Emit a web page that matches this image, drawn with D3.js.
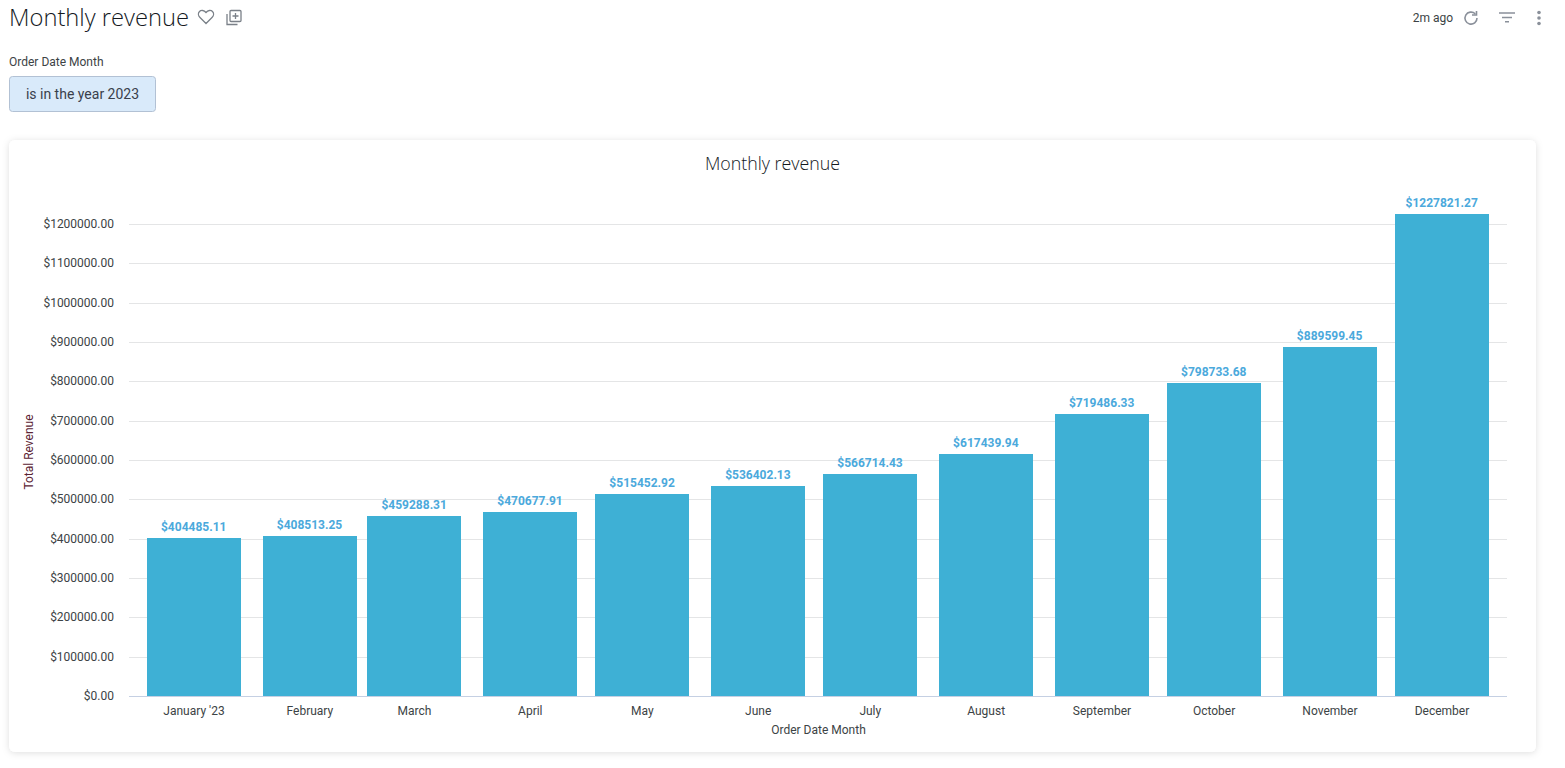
<!DOCTYPE html>
<html><head><meta charset="utf-8">
<script src="https://cdn.jsdelivr.net/npm/d3@7"></script>
<style>
html,body{margin:0;padding:0;background:#fff;overflow:hidden}
svg{display:block}
text{font-family:Roboto,sans-serif}
</style></head><body>
<svg id="c" width="1565" height="768"></svg>
<script>
const months = ["2023-01-01","2023-02-01","2023-03-01","2023-04-01","2023-05-01","2023-06-01","2023-07-01","2023-08-01","2023-09-01","2023-10-01","2023-11-01","2023-12-01"];
const monthLabels = ["January '23","February","March","April","May","June","July","August","September","October","November","December"];
const revenue = [404485.11,408513.25,459288.31,470677.91,515452.92,536402.13,566714.43,617439.94,719486.33,798733.68,889599.45,1227821.27];
const yTicks = [0,100000,200000,300000,400000,500000,600000,700000,800000,900000,1000000,1100000,1200000];

const svg = d3.select("#c");
const parse = d3.utcParse("%Y-%m-%d");
const dates = months.map(parse);
const left=129,right=1507,top0=224,bottom=696;
const DAY=864e5;
const x = d3.scaleUtc()
  .domain([new Date(+dates[0]-17.4*DAY), new Date(+dates[11]+17.4*DAY)])
  .range([left,right]);
const y = d3.scaleLinear().domain([0,1200000]).range([bottom,top0]);
const money = d3.format("$.2f");
const barW = 94;
const barTop = d => Math.round(y(d))+1;

// card
const defs = svg.append("defs");
const f = defs.append("filter").attr("id","sh").attr("x","-2%").attr("y","-5%").attr("width","104%").attr("height","110%");
f.append("feDropShadow").attr("dx",0).attr("dy",1).attr("stdDeviation",3.5).attr("flood-color","#000").attr("flood-opacity",0.13);
svg.append("rect").attr("x",9).attr("y",140).attr("width",1527).attr("height",612).attr("rx",6).attr("fill","#fff").attr("filter","url(#sh)");

// page header
svg.append("text").attr("x",9).attr("y",26).attr("font-size",24.5).attr("font-weight",300).attr("fill","#14191e").style("font-family","'Open Sans',sans-serif").attr("textLength",180).attr("lengthAdjust","spacingAndGlyphs").text("Monthly revenue");
svg.append("path").attr("d","M206 23.5l-6-6c-2-2-2-4.500-.5-6s4.500-1.500 6.500 1c2-2.500 5-2.500 6.500-1s1.500 4-.5 6z")
  .attr("fill","none").attr("stroke","#7a8088").attr("stroke-width",1.3);
const ic = svg.append("g").attr("fill","none").attr("stroke","#7a8088").attr("stroke-width",1.3);
ic.append("rect").attr("x",230).attr("y",10.500).attr("width",11).attr("height",11).attr("rx",1);
ic.append("path").attr("d","M227 14v10.500h10.500M235.500 13v6M232.500 16h6");

svg.append("text").attr("x",9).attr("y",66).attr("font-size",12).attr("fill","#3c4345").text("Order Date Month");
svg.append("rect").attr("x",9.500).attr("y",76.500).attr("width",146).attr("height",35).attr("rx",3).attr("fill","#d9eafa").attr("stroke","#b2c1d4");
svg.append("text").attr("x",82.500).attr("y",99).attr("text-anchor","middle").attr("font-size",14).attr("fill","#3a3f4c").text("is in the year 2023");

svg.append("text").attr("x",1433).attr("y",22).attr("text-anchor","middle").attr("font-size",12).attr("fill","#3c4345").text("2m ago");
const g2 = svg.append("g").attr("fill","none").attr("stroke","#8a909a").attr("stroke-width",1.6);
g2.append("path").attr("d","M1477 18a6 6 0 1 1-1.800-4.200M1476.500 11v4h-4.500");
g2.append("path").attr("d","M1499 13h16M1502 17.500h10M1505 21.800h4");
svg.append("g").attr("fill","#8a909a").selectAll("circle").data([12.500,18,23.500]).join("circle").attr("cx",1539).attr("cy",d=>d).attr("r",1.800);

// chart title
svg.append("text").attr("x",772.500).attr("y",170).attr("text-anchor","middle").attr("font-size",17.500).attr("font-weight",300).attr("fill","#14191e").style("font-family","'Open Sans',sans-serif").attr("textLength",135).attr("lengthAdjust","spacingAndGlyphs").text("Monthly revenue");

// gridlines
svg.append("g").selectAll("line").data(yTicks.filter(d=>d>0)).join("line")
  .attr("x1",left).attr("x2",right).attr("y1",d=>Math.round(y(d))+.5).attr("y2",d=>Math.round(y(d))+.5)
  .attr("stroke","#e4e5e6");

// y axis
const yAxis = d3.axisLeft(y).tickValues(yTicks).tickFormat(money).tickSize(0).tickPadding(15);
const ya = svg.append("g").attr("transform",`translate(${left},-0.5)`).call(yAxis);
ya.select(".domain").remove();
ya.selectAll("text").attr("font-size",12).attr("fill","#3c4345").style("font-family","Roboto,sans-serif");

// bars
svg.append("g").selectAll("rect").data(revenue).join("rect")
  .attr("x",(d,i)=>Math.round(x(dates[i]))-barW/2).attr("width",barW)
  .attr("y",d=>barTop(d)).attr("height",d=>bottom-barTop(d)).attr("fill","#3eb0d5");

// x axis
svg.append("line").attr("x1",left).attr("x2",right).attr("y1",696.5).attr("y2",696.5).attr("stroke","#c5d0e3");
const xAxis = d3.axisBottom(x).tickValues(dates).tickFormat((d,i)=>monthLabels[i]).tickSize(0).tickPadding(10);
const xa = svg.append("g").attr("transform",`translate(-0.5,${bottom})`).call(xAxis);
xa.select(".domain").remove();
xa.selectAll("text").attr("font-size",12).attr("fill","#3c4345").style("font-family","Roboto,sans-serif");

// value labels
svg.append("g").selectAll("text").data(revenue).join("text")
  .attr("x",(d,i)=>x(dates[i])-0.3).attr("y",d=>barTop(d)-7).attr("text-anchor","middle")
  .attr("font-size",12).attr("font-weight",700).attr("fill","#4ba9dc").text(d=>money(d));

// axis titles
svg.append("text").attr("x",818.500).attr("y",734).attr("text-anchor","middle").attr("font-size",12).attr("fill","#3c4345").text("Order Date Month");
svg.append("text").attr("transform","translate(33,452) rotate(-90)").attr("text-anchor","middle").attr("font-size",12).attr("fill","#5b2333").text("Total Revenue");
</script></body></html>
